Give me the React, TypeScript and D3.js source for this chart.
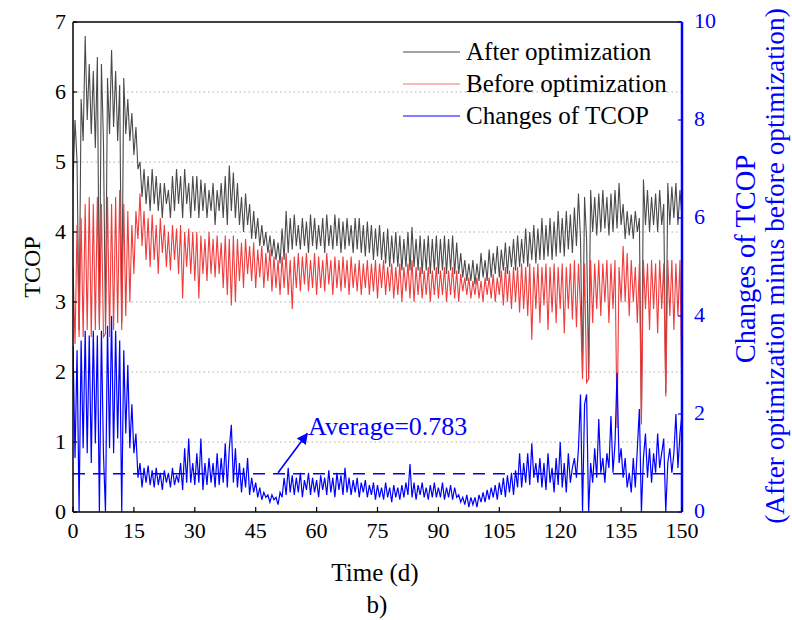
import React from "react";
import * as d3 from "d3";

// Sampling step of the series (days)
const stepDays = 0.5;

// TCOP after optimization (left axis)
const afterOpt: number[] = [
  4.7,5.6,5.0,2.6,5.9,5.3,6.8,5.6,6.4,5.4,6.3,5.2,6.5,2.7,6.4,5.3,2.6,6.2,5.4,6.6,
  5.5,6.3,5.3,6.1,2.7,6.2,5.4,5.9,5.3,5.7,5.1,5.5,4.9,5.0,4.5,4.9,4.4,4.8,4.3,4.9,
  4.4,4.8,4.3,4.7,4.2,4.7,4.4,4.6,4.2,4.8,4.3,4.9,4.4,4.8,4.2,4.9,4.4,4.7,4.2,4.8,
  4.3,4.8,4.2,4.75,4.3,4.7,4.2,4.6,4.3,4.7,4.1,4.6,4.3,4.7,4.2,4.8,4.1,4.95,4.3,4.85,
  4.2,4.7,4.1,4.5,4.0,4.55,4.1,4.4,3.9,4.3,3.9,4.2,3.8,4.1,3.8,4.0,3.7,3.95,3.65,3.9,
  3.6,3.85,3.55,4.05,3.6,4.3,3.7,4.2,3.75,4.25,3.8,4.1,3.75,4.2,3.8,4.15,3.7,4.25,3.8,4.2,
  3.75,4.1,3.8,4.2,3.7,4.25,3.8,4.1,3.75,4.25,3.8,4.2,3.7,4.15,3.75,4.2,3.8,4.1,3.7,4.2,
  3.75,4.2,3.7,4.1,3.65,4.15,3.7,4.1,3.6,4.05,3.65,4.1,3.6,4.0,3.55,4.05,3.5,3.95,3.55,4.0,
  3.5,3.95,3.45,3.9,3.5,4.0,3.45,4.07,3.5,3.9,3.45,3.95,3.4,3.9,3.45,3.95,3.4,3.9,3.45,3.95,
  3.4,3.9,3.45,3.95,3.4,3.9,3.45,3.95,3.4,3.85,3.4,3.7,3.35,3.6,3.3,3.55,3.3,3.6,3.25,3.55,
  3.3,3.7,3.35,3.6,3.3,3.75,3.35,3.7,3.4,3.8,3.35,3.75,3.45,3.85,3.4,3.8,3.5,3.9,3.45,3.95,
  3.5,3.9,3.55,4.05,3.5,4.0,3.6,4.1,3.55,4.05,3.6,4.2,3.6,4.1,3.65,4.2,3.6,4.15,3.65,4.3,
  3.7,4.2,3.65,4.3,3.75,4.25,3.7,4.35,3.8,4.55,3.9,2.0,4.5,3.9,1.9,4.6,4.0,4.5,3.95,4.55,
  4.0,4.6,4.05,4.5,3.95,4.55,4.0,4.6,4.05,4.7,4.1,4.4,3.9,4.3,3.95,4.25,3.9,4.3,4.0,4.2,
  1.3,4.75,4.1,4.6,4.0,4.5,4.1,4.55,4.0,4.6,4.1,4.4,1.7,4.7,4.1,4.65,4.2,4.7,4.1,4.6,
  4.2,
];

// TCOP before optimization (left axis)
const beforeOpt: number[] = [
  3.5,2.4,4.1,2.5,4.2,2.5,4.4,2.6,4.5,2.5,4.4,2.6,4.5,2.6,4.4,2.5,2.55,4.5,2.5,4.4,
  2.6,4.5,2.7,4.6,2.6,4.4,2.8,4.3,3.0,4.1,3.4,4.3,3.9,4.55,3.8,4.3,3.6,4.2,3.5,4.25,
  3.6,4.1,3.4,4.2,3.7,4.1,3.5,4.0,3.45,4.1,3.6,4.05,3.4,4.1,3.05,4.0,3.5,4.05,3.4,4.0,
  3.3,4.0,3.05,3.95,3.4,3.9,3.3,4.0,3.4,3.9,3.35,3.95,3.4,3.85,3.2,3.95,3.1,3.9,2.95,3.95,
  3.0,3.9,3.3,3.85,3.2,3.9,3.4,3.8,3.3,3.85,3.2,3.75,3.35,3.8,3.2,3.7,3.3,3.75,3.15,3.65,
  3.2,3.6,3.1,3.65,3.2,3.7,3.1,3.6,2.9,3.65,3.2,3.7,3.15,3.65,3.25,3.7,3.15,3.6,3.2,3.7,
  3.1,3.65,3.2,3.6,3.15,3.7,3.25,3.6,3.1,3.65,3.2,3.6,3.15,3.65,3.2,3.6,3.1,3.65,3.2,3.55,
  3.15,3.6,3.1,3.55,3.2,3.6,3.1,3.55,3.15,3.6,3.05,3.55,3.2,3.6,3.1,3.5,3.15,3.55,3.05,3.5,
  3.1,3.55,3.0,3.5,3.15,3.55,3.05,3.6,3.0,3.5,3.1,3.5,3.05,3.45,3.1,3.5,3.0,3.45,3.1,3.5,
  3.05,3.45,3.1,3.5,3.0,3.45,3.1,3.5,3.05,3.45,3.0,3.4,3.15,3.35,3.1,3.35,3.05,3.3,3.1,3.35,
  3.05,3.3,3.0,3.35,3.1,3.35,3.05,3.4,3.0,3.35,3.1,3.45,2.95,3.5,3.0,3.45,2.9,3.5,3.0,3.5,
  2.85,3.55,2.9,3.5,2.8,3.55,2.46,3.5,2.9,3.55,2.7,3.5,2.95,3.55,2.6,3.5,2.85,3.55,2.7,3.5,
  2.9,3.55,2.55,3.5,2.9,3.55,2.75,3.6,2.64,3.55,2.9,1.9,3.55,1.85,1.9,3.6,2.7,3.55,2.9,3.6,
  2.8,3.55,3.0,3.6,2.7,3.55,2.9,3.6,1.2,3.5,3.0,3.8,3.0,3.7,2.8,3.6,3.0,3.5,2.7,3.55,
  1.25,3.6,2.9,3.55,2.6,3.6,2.9,3.55,2.55,3.6,2.9,3.55,1.65,3.6,2.8,3.6,2.6,3.55,2.8,3.6,
  1.5,
];

// Changes of TCOP (right axis)
const changesTCOP: number[] = [
  3.4,1.1,3.3,0,3.5,1.3,3.7,1.2,3.6,1.0,3.7,1.4,3.6,0,3.7,1.2,0,3.8,1.3,4.0,
  1.2,3.7,1.5,3.5,0,3.3,1.6,3.0,1.3,2.2,1.2,1.6,0.7,1.0,0.5,0.9,0.6,0.95,0.55,0.85,
  0.5,0.9,0.55,0.8,0.45,0.85,0.6,0.8,0.5,0.9,0.55,0.75,0.6,1.0,0.45,1.3,0.6,1.5,0.6,1.0,
  0.55,1.2,0.6,1.5,0.45,1.0,0.55,1.1,0.6,1.0,0.5,1.2,0.55,1.1,0.6,1.4,0.5,1.3,1.78,0.6,
  1.3,0.5,1.0,0.4,0.9,0.5,1.1,0.35,0.7,0.4,0.6,0.3,0.5,0.25,0.4,0.3,0.35,0.2,0.35,0.25,
  0.3,0.15,0.4,0.3,0.7,0.35,0.9,0.4,0.75,0.35,0.7,0.4,0.8,0.3,0.65,0.45,0.8,0.35,0.7,0.4,
  0.65,0.3,0.75,0.45,0.7,0.35,0.85,0.4,0.7,0.3,0.8,0.45,0.75,0.35,0.9,0.4,0.7,0.35,0.65,0.4,
  0.7,0.3,0.6,0.4,0.65,0.3,0.55,0.35,0.6,0.25,0.55,0.3,0.5,0.25,0.6,0.3,0.5,0.2,0.55,0.3,
  0.5,0.25,0.55,0.3,0.6,0.35,0.98,0.3,0.6,0.25,0.55,0.35,0.6,0.3,0.5,0.25,0.55,0.3,0.6,0.3,
  0.5,0.3,0.6,0.25,0.5,0.3,0.55,0.25,0.5,0.3,0.35,0.2,0.3,0.15,0.35,0.1,0.3,0.15,0.3,0.1,
  0.35,0.2,0.4,0.2,0.45,0.25,0.5,0.3,0.55,0.25,0.6,0.35,0.7,0.3,0.75,0.4,0.8,0.35,0.85,0.5,
  1.2,0.5,1.0,0.6,1.2,0.55,1.4,0.7,1.0,0.6,1.1,0.5,1.0,0.45,1.2,0.6,0.9,0.4,1.1,0.55,
  1.43,0.5,1.0,0.4,1.2,0.6,0.9,1.1,0.7,1.3,2.4,0,2.2,2.4,0,1.0,0.6,1.3,0.7,1.9,
  0.8,1.1,0.6,1.2,0.9,1.96,0.8,1.4,2.84,1.0,1.3,0.7,1.1,0.5,0.8,0.4,1.1,0.5,1.3,2.1,
  0,1.1,1.6,0.7,1.3,0.6,1.2,0.8,1.6,0.9,1.2,1.5,0,1.0,1.3,0.8,1.2,2.0,0.9,1.6,
  2.0,
];

const averageChange = 0.783;
const xTicks = [0, 15, 30, 45, 60, 75, 90, 105, 120, 135, 150];
const leftTicks = [0, 1, 2, 3, 4, 5, 6, 7];
const rightTicks = [0, 2, 4, 6, 8, 10];
const legendLabels = ["After optimization", "Before optimization", "Changes of TCOP"];

const W = 792, H = 620;
const L = 73, R = 682, T = 22, B = 512;
const FONT = "'Liberation Serif', 'Times New Roman', serif";
const C_AFTER = "#4a4a4a";
const C_BEFORE = "#f03c3c";
const C_BLUE = "#0000ff";

export default function App() {
  const x = d3.scaleLinear().domain([0, 150]).range([L, R]);
  const yL = d3.scaleLinear().domain([0, 7]).range([B, T]);
  const yR = d3.scaleLinear().domain([0, 10]).range([B, T]);

  const lineL = d3.line<number>().x((_, i) => x(i * stepDays)).y((v) => yL(v));
  const lineR = d3.line<number>().x((_, i) => x(i * stepDays)).y((v) => yR(v));

  const avgY = yR(averageChange);
  const legendColors = [C_AFTER, C_BEFORE, C_BLUE];
  const legendLineY = [52, 84, 116];

  return (
    <svg width={W} height={H} style={{ position: "absolute", left: 0, top: 0, background: "#fff" }} fontFamily={FONT}>
      <defs>
        <clipPath id="plot">
          <rect x={L} y={T} width={R - L} height={B - T} />
        </clipPath>
        <marker id="arrow" viewBox="0 0 10 10" refX="9" refY="5" markerWidth="7" markerHeight="7" orient="auto">
          <path d="M0,0 L10,5 L0,10 z" fill={C_BLUE} />
        </marker>
      </defs>

      {/* gridlines */}
      {leftTicks.filter((t) => t > 0 && t < 7).map((t) => (
        <line key={"g" + t} x1={L} x2={R} y1={yL(t)} y2={yL(t)} stroke="#aaa" strokeWidth={1} strokeDasharray="1.5,3" />
      ))}

      <g clipPath="url(#plot)">
        <path d={lineL(afterOpt) || ""} fill="none" stroke={C_AFTER} strokeWidth={1.1} />
        <path d={lineL(beforeOpt) || ""} fill="none" stroke={C_BEFORE} strokeWidth={1.1} />
        <path d={lineR(changesTCOP) || ""} fill="none" stroke={C_BLUE} strokeWidth={1.2} />
        <line x1={L} x2={R} y1={avgY} y2={avgY} stroke={C_BLUE} strokeWidth={1.5} strokeDasharray="12,8" />
      </g>

      {/* annotation */}
      <line x1={x(50.5)} y1={yR(0.8)} x2={x(57.7)} y2={yR(1.6)} stroke={C_BLUE} strokeWidth={1.6} markerEnd="url(#arrow)" />
      <text x={x(57.9)} y={435} fill={C_BLUE} fontSize={26}>Average=0.783</text>

      {/* frame */}
      <line x1={L} x2={R} y1={T} y2={T} stroke="#000" strokeWidth={1.5} />
      <line x1={L} x2={R} y1={B} y2={B} stroke="#000" strokeWidth={1.5} />
      <line x1={L} x2={L} y1={T} y2={B} stroke="#000" strokeWidth={1.5} />
      <line x1={R} x2={R} y1={T} y2={B} stroke={C_BLUE} strokeWidth={2.5} />

      {/* x ticks */}
      {xTicks.map((t) => (
        <g key={"x" + t}>
          <line x1={x(t)} x2={x(t)} y1={B} y2={B - 5} stroke="#000" strokeWidth={1.2} />
          <text x={x(t)} y={B + 26} textAnchor="middle" fontSize={22} fill="#000">{t}</text>
        </g>
      ))}
      {/* left ticks */}
      {leftTicks.map((t) => (
        <g key={"l" + t}>
          <line x1={L} x2={L + 4} y1={yL(t)} y2={yL(t)} stroke="#000" strokeWidth={1.2} />
          <text x={L - 7} y={yL(t) + 7} textAnchor="end" fontSize={22} fill="#000">{t}</text>
        </g>
      ))}
      {/* right ticks */}
      {rightTicks.map((t) => (
        <g key={"r" + t}>
          <line x1={R} x2={R - 4} y1={yR(t)} y2={yR(t)} stroke={C_BLUE} strokeWidth={1.2} />
          <text x={R + 12} y={yR(t) + 6} textAnchor="start" fontSize={22} fill={C_BLUE}>{t}</text>
        </g>
      ))}

      {/* legend */}
      {legendLabels.map((lab, i) => (
        <g key={lab}>
          <line x1={403} x2={460} y1={legendLineY[i]} y2={legendLineY[i]} stroke={legendColors[i]} strokeWidth={1.2} opacity={i === 1 ? 0.7 : 1} />
          <text x={466} y={legendLineY[i] + 8} fontSize={25} fill="#000">{lab}</text>
        </g>
      ))}

      {/* axis titles */}
      <text transform={`translate(40,${(T + B) / 2}) rotate(-90)`} textAnchor="middle" fontSize={24} fill="#000">TCOP</text>
      <text x={375} y={581} textAnchor="middle" fontSize={25} fill="#000">Time (d)</text>
      <text x={377} y={613} textAnchor="middle" fontSize={25} fill="#000">b)</text>
      <text transform={`translate(755,259) rotate(-90)`} textAnchor="middle" fontSize={28.5} fill={C_BLUE}>Changes of TCOP</text>
      <text transform={`translate(784,266) rotate(-90)`} textAnchor="middle" fontSize={27.3} fill={C_BLUE}>(After optimization minus before optimization)</text>
    </svg>
  );
}
